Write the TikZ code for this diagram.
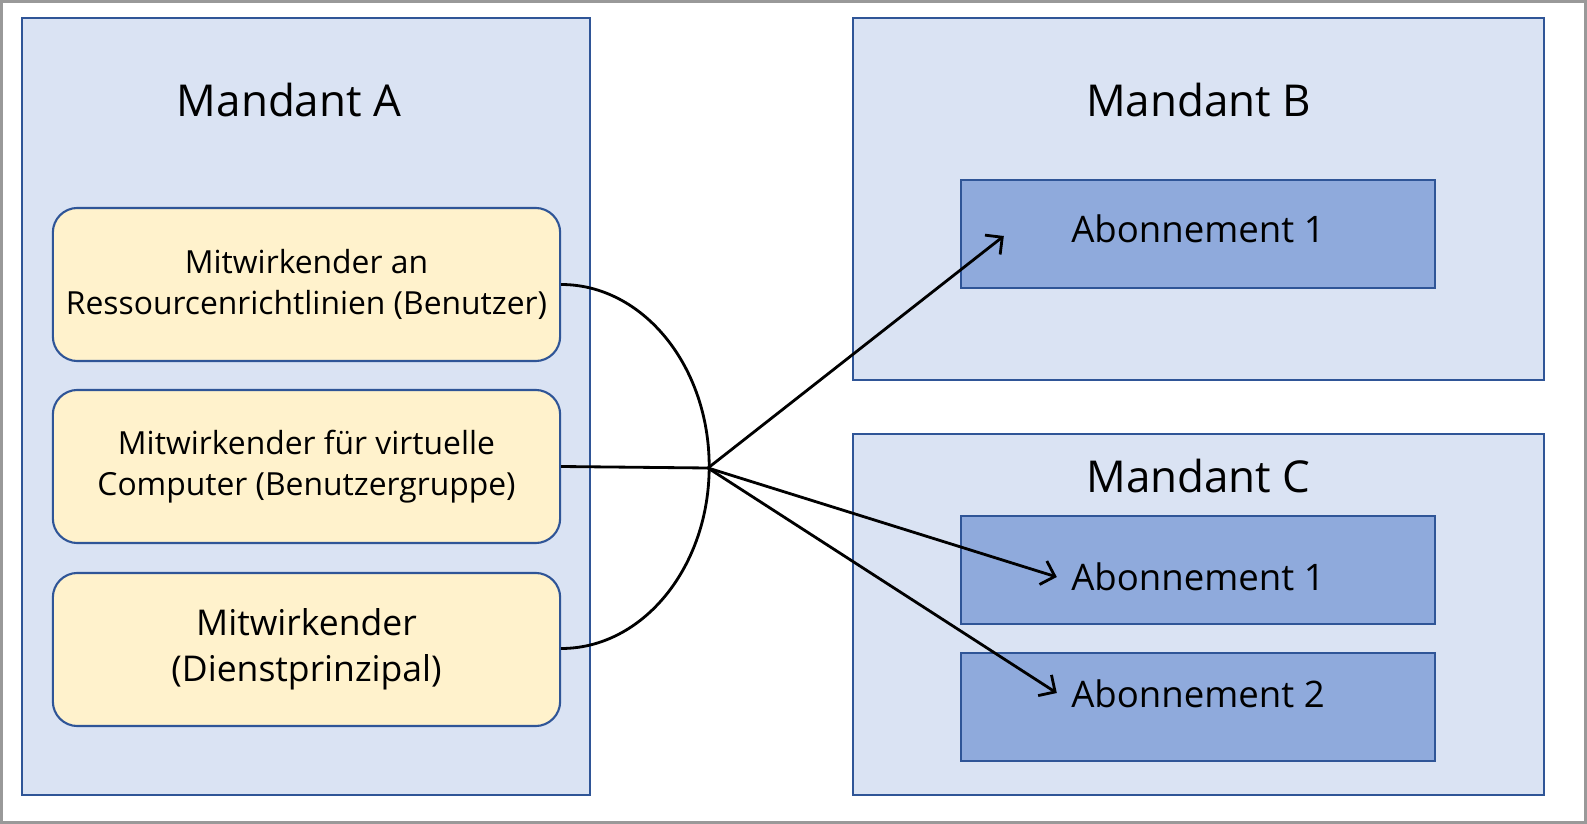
\documentclass[tikz,border=0pt]{standalone}
\usepackage{fontspec}
\setmainfont{Open Sans}
\usepackage{tikz}
\usetikzlibrary{arrows.meta,positioning,calc}
\definecolor{tenantblue}{RGB}{218,227,243}
\definecolor{lineblue}{RGB}{47,85,151}
\definecolor{rolecream}{RGB}{255,242,204}
\definecolor{subblue}{RGB}{143,170,220}

\begin{document}
\begin{tikzpicture}[x=0.01cm,y=-0.01cm,
    tenant/.style={rectangle,draw=lineblue,fill=tenantblue,line width=0.6pt,inner sep=0pt},
    role/.style={rectangle,draw=lineblue,fill=rolecream,line width=0.6pt,rounded corners=7pt,
        minimum width=5.07cm,minimum height=1.53cm,inner xsep=0pt,align=center},
    subbox/.style={rectangle,draw=lineblue,fill=subblue,line width=0.6pt,
        minimum width=4.74cm,minimum height=1.08cm},
    link/.style={line width=0.8pt,black},
    grant/.style={line width=0.8pt,black,-{Straight Barb[length=3.5pt,width=7pt]}}]
        % Frame
        \useasboundingbox (0,0) rectangle (1587,824);
        \draw[gray!80,line width=0.8pt] (1.5,1.5) rectangle (1585.5,822.5);

        % Tenants
        \node[tenant,minimum width=5.68cm,minimum height=7.77cm] (tenA) at (306,406.5) {};
        \node[tenant,minimum width=6.91cm,minimum height=3.62cm] (tenB) at (1198.5,199) {};
        \node[tenant,minimum width=6.91cm,minimum height=3.61cm] (tenC) at (1198.5,614.5) {};
        \node[font=\fontsize{12.5}{15}\selectfont] (titleA) at (289,100) {Mandant A};
        \node[font=\fontsize{12.5}{15}\selectfont] (titleB) at (1198.5,100) {Mandant B};
        \node[font=\fontsize{12.5}{15}\selectfont] (titleC) at (1198.5,476) {Mandant C};

        % Role assignments
        \node[role,font=\fontsize{9.05}{11.7}\selectfont] (roleUser) at (306.5,284.5)
            {Mitwirkender an\\Ressourcenrichtlinien (Benutzer)};
        \node[role,font=\fontsize{9.05}{11.7}\selectfont] (roleGroup) at (306.5,466.5)
            {Mitwirkender für virtuelle\\Computer (Benutzergruppe)};
        \node[role,font=\fontsize{10.1}{13.1}\selectfont] (roleSP) at (306.5,649.5)
            {Mitwirkender\\(Dienstprinzipal)};

        % Subscriptions
        \node[subbox] (subB) at (1198,234) {};
        \node[subbox] (subC1) at (1198,570) {};
        \node[subbox] (subC2) at (1198,707) {};
        \node[font=\fontsize{10.4}{13}\selectfont] (labB) at (1198,229) {Abonnement 1};
        \node[font=\fontsize{10.4}{13}\selectfont] (labC1) at (1198,577) {Abonnement 1};
        \node[font=\fontsize{10.4}{13}\selectfont] (labC2) at (1198,694) {Abonnement 2};

        % Connectors
        \coordinate (hub) at (708,468);
        \draw[link] (roleUser.east) arc[start angle=-90,end angle=90,x radius=148,y radius=182];
        \draw[link] (roleGroup.east) -- (hub);
        \draw[grant] (hub) -- ($(subB.west)+(44,2)$);
        \draw[grant] (hub) -- ($(subC1.west)+(97,7)$);
        \draw[grant] (hub) -- ($(subC2.west)+(97,-14)$);
    \end{tikzpicture}
\end{document}
